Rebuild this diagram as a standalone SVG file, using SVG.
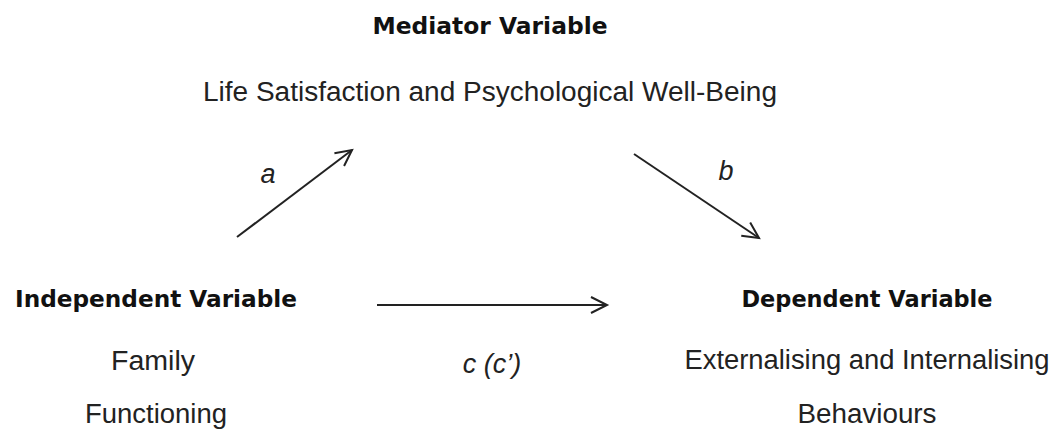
<svg xmlns="http://www.w3.org/2000/svg" width="1059" height="436" viewBox="0 0 1059 436">
<style>
.hd{font-family:"DejaVu Sans",sans-serif;font-weight:bold;font-size:23.5px;fill:#111;text-anchor:middle}
.tx{font-family:"Liberation Sans",Arial,sans-serif;font-size:27px;fill:#222;text-anchor:middle}
.lb{font-family:"Liberation Sans",Arial,sans-serif;font-size:27px;font-style:italic;fill:#222;text-anchor:middle}
.ln{stroke:#222;stroke-width:2;fill:none}
</style>
<defs>
<marker id="ah" markerUnits="userSpaceOnUse" markerWidth="24" markerHeight="24" viewBox="-20 -12 24 24" refX="0" refY="0" orient="auto">
<path d="M-16,-8 L0,0 L-16,8" fill="none" stroke="#222" stroke-width="2"/>
</marker>
</defs>
<rect width="1059" height="436" fill="#fff"/>
<g id="mediator">
<text class="hd" x="490" y="34" textLength="235" lengthAdjust="spacingAndGlyphs">Mediator Variable</text>
<text class="tx" x="490" y="101" textLength="574" lengthAdjust="spacingAndGlyphs">Life Satisfaction and Psychological Well-Being</text>
</g>
<g id="independent">
<text class="hd" x="156" y="307" textLength="282" lengthAdjust="spacingAndGlyphs">Independent Variable</text>
<text class="tx" x="153" y="370" textLength="84" lengthAdjust="spacingAndGlyphs">Family</text>
<text class="tx" x="156" y="423" textLength="142" lengthAdjust="spacingAndGlyphs">Functioning</text>
</g>
<g id="dependent">
<text class="hd" x="867" y="307" textLength="251" lengthAdjust="spacingAndGlyphs">Dependent Variable</text>
<text class="tx" x="867" y="369" textLength="365" lengthAdjust="spacingAndGlyphs">Externalising and Internalising</text>
<text class="tx" x="867" y="423" textLength="139" lengthAdjust="spacingAndGlyphs">Behaviours</text>
</g>
<g id="connectors">
<line class="ln" x1="237" y1="237" x2="352" y2="150" marker-end="url(#ah)"/>
<line class="ln" x1="634" y1="154" x2="759" y2="238" marker-end="url(#ah)"/>
<line class="ln" x1="377" y1="305" x2="607" y2="305" marker-end="url(#ah)"/>
<text class="lb" x="268" y="183">a</text>
<text class="lb" x="726" y="180">b</text>
<text class="lb" x="492" y="373">c (c’)</text>
</g>
</svg>
